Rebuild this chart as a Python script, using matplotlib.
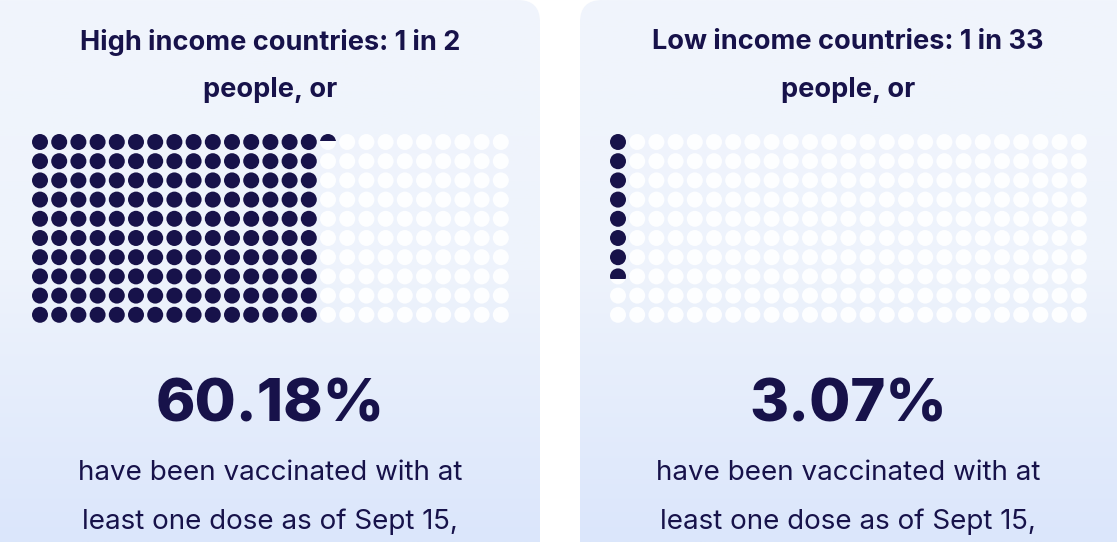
import matplotlib
matplotlib.use("Agg")
import matplotlib.pyplot as plt
import numpy as np
from matplotlib.patches import Circle, FancyBboxPatch, Rectangle
from matplotlib.colors import LinearSegmentedColormap

titles_line1 = ["High income countries: 1 in 2", "Low income countries: 1 in 33"]
titles_line2 = ["people, or", "people, or"]
percentages = [60.18, 3.07]
body_line1 = ["have been vaccinated with at", "have been vaccinated with at"]
body_line2 = ["least one dose as of Sept 15,", "least one dose as of Sept 15,"]
n_cols, n_rows = 25, 10

W, H = 1117, 542
fig = plt.figure(figsize=(W/100, H/100), dpi=100)
ax = fig.add_axes([0, 0, 1, 1])
ax.set_xlim(0, W); ax.set_ylim(H, 0); ax.axis("off")
fig.patch.set_facecolor("white")

navy = "#17124a"
font = "Inter"
cards = [(-30, 540), (580, 1160)]
centers = [270, 848]
grid_x0 = [40, 618]
sp = 19.2
r = 8.0
grad = np.linspace(0, 1, 256)[:, None]
cmap = LinearSegmentedColormap.from_list("g", ["#f1f5fc", "#eef3fc", "#dbe6fb"])

for i in range(2):
    x0, x1 = cards[i]
    card = FancyBboxPatch((x0, 0), x1 - x0, H + 40, boxstyle="round,pad=0,rounding_size=22",
                          facecolor="none", edgecolor="none")
    ax.add_patch(card)
    im = ax.imshow(grad, extent=(x0, x1, H, 0), cmap=cmap, aspect="auto", zorder=0)
    im.set_clip_path(card)
    cx = centers[i]
    ax.text(cx, 42, titles_line1[i], ha="center", va="center", fontsize=19.5, fontweight="bold", color=navy, family=font)
    ax.text(cx, 90, titles_line2[i], ha="center", va="center", fontsize=19.5, fontweight="bold", color=navy, family=font)
    filled = percentages[i] / 100 * n_cols * n_rows
    for c in range(n_cols):
        for rr in range(n_rows):
            k = c * n_rows + rr
            x = grid_x0[i] + c * sp
            y = 142 + rr * sp
            ax.add_patch(Circle((x, y), r, facecolor="#fdfeff", edgecolor="none", zorder=2))
            if k + 1 <= filled:
                ax.add_patch(Circle((x, y), r, facecolor=navy, edgecolor="none", zorder=3))
            elif k < filled:
                frac = filled - k
                p = Circle((x, y), r, facecolor=navy, edgecolor="none", zorder=3)
                ax.add_patch(p)
                clip = Rectangle((x - r, y - r), 2 * r, 2 * r * frac, transform=ax.transData)
                p.set_clip_path(clip)
    ax.text(cx, 406, f"{percentages[i]:.2f}%", ha="center", va="center", fontsize=43, fontweight="heavy", color=navy, family=font)
    ax.text(cx, 473, body_line1[i], ha="center", va="center", fontsize=20, color=navy, family=font)
    ax.text(cx, 522, body_line2[i], ha="center", va="center", fontsize=20, color=navy, family=font)

fig.savefig("out.png", dpi=100, facecolor="white")
